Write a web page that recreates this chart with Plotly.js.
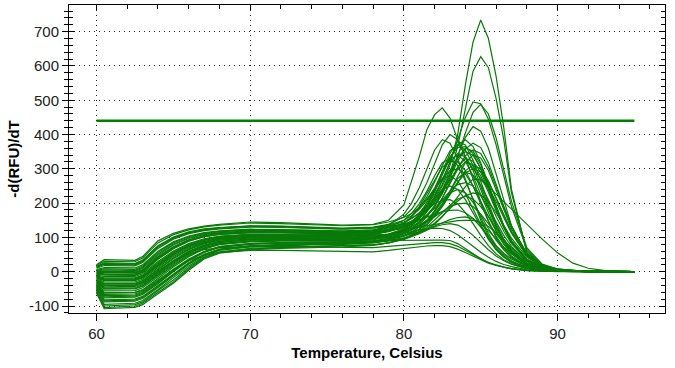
<!DOCTYPE html>
<html>
<head>
<meta charset="utf-8">
<script src="https://cdn.plot.ly/plotly-3.0.1.min.js"></script>
<style>
html,body{margin:0;padding:0;background:#fff;}
#chart{width:675px;height:368px;}
</style>
</head>
<body>
<div id="chart"></div>
<script>
// Temperature sample points (°C)
const temperatureC = [60, 60.5, 62.5, 63, 64, 65, 66, 67, 68, 70, 72, 74, 76, 78, 79, 80, 80.5, 81, 81.5, 82, 82.5, 83, 83.5, 84, 84.5, 85, 85.5, 86, 86.5, 87, 88, 89, 90, 91, 92, 93, 95];

// -d(RFU)/dT melt curves, one array per well
const well01 = [12,22,20,30,72,98,113,122,127,132,131,128,125,128, 134,145,155,170,190,218,255,310,400,545,670,734,680,570,420,240,55,15,6,2,1,0,0];
const well02 = [-5,-6,-7,2,40,70,91,103,110,115,115,113,111,115, 122,135,146,160,180,208,240,285,365,475,585,627,595,505,385,230,60,18,7,3,1,0,0];
const well03 = [4,8,7,16,56,84,102,112,118,123,122,120,118,121, 128,142,155,172,195,225,265,320,385,450,495,490,445,370,280,190,65,20,8,3,1,0,0];
const well04 = [-20,-30,-30,-22,12,44,69,85,95,101,102,101,100,104, 110,122,132,146,166,192,228,275,335,405,465,488,460,390,300,205,70,22,8,3,1,0,0];
const well05 = [20,35,33,44,90,112,125,133,138,145,143,140,136,138, 150,195,262,335,415,458,478,448,385,335,300,272,248,226,205,182,140,95,55,25,10,4,0];
const well06 = [-12,-18,-18,-10,26,57,80,94,102,108,108,107,106,110, 117,130,140,155,175,202,238,285,340,392,423,410,360,285,205,135,48,16,6,2,1,0,0];
const well07 = [15,26,24,34,76,101,116,125,129,134,133,130,127,130, 138,160,182,215,260,315,370,400,385,335,270,205,148,100,65,40,15,6,3,1,0,0,0];
const well08 = [2,5,4,13,52,80,99,110,116,121,120,118,116,119, 135,168,200,245,300,355,385,375,330,270,205,150,105,70,45,28,10,4,2,1,0,0,0];
const well09 = [-28,-44,-43,-35,-2,30,58,76,88,95,96,96,95,99, 106,120,135,158,192,238,292,345,380,370,325,262,198,140,95,62,24,9,4,1,0,0,0];
const well10 = [-2,-1,-2,6,44,73,93,105,112,117,117,115,113,117, 124,142,160,185,218,262,310,352,370,355,310,250,190,135,92,60,22,8,3,1,0,0,0];
const well11 = [-35,-56,-55,-47,-15,18,47,68,81,89,91,91,91,95, 101,112,122,138,160,192,235,285,332,360,352,312,255,192,135,90,35,13,5,2,1,0,0];
const well12 = [-15,-24,-24,-16,20,52,76,91,100,106,106,105,104,108, 118,132,144,160,182,212,250,295,332,350,340,302,248,188,132,88,34,12,5,2,1,0,0];
const well13 = [-42,-70,-68,-60,-30,4,35,58,73,82,85,86,86,90, 97,110,124,145,175,218,268,318,345,335,295,240,182,130,88,58,22,8,3,1,0,0,0];
const well14 = [-18,-26,-26,-18,16,48,72,87,97,103,104,103,102,106, 109,118,126,136,150,170,198,235,278,318,340,332,295,240,180,125,50,18,7,3,1,0,0];
const well15 = [6,12,11,20,60,87,104,114,119,124,123,121,119,122, 130,150,170,198,235,280,318,330,310,265,210,158,112,76,50,32,12,5,2,1,0,0,0];
const well16 = [-52,-88,-86,-78,-46,-12,22,48,64,74,78,80,81,85, 92,104,115,130,150,178,215,258,298,320,312,280,232,178,128,88,36,14,5,2,1,0,0];
const well17 = [-32,-50,-49,-41,-8,25,54,73,85,93,94,94,94,98, 105,114,122,132,146,166,192,226,262,295,310,300,265,215,162,115,48,18,7,3,1,0,0];
const well18 = [18,30,29,40,84,108,122,131,136,142,140,137,134,137, 145,158,170,188,212,242,272,294,300,285,250,205,160,118,82,55,20,8,3,1,0,0,0];
const well19 = [-60,-105,-100,-92,-60,-30,8,40,56,66,70,72,74,78, 84,95,105,118,136,162,196,236,272,290,282,252,210,162,118,82,34,13,5,2,1,0,0];
const well20 = [-38,-62,-61,-53,-20,14,44,66,79,87,89,89,89,93, 104,122,142,168,202,240,270,280,265,228,182,138,98,66,44,28,10,4,2,1,0,0,0];
const well21 = [-8,-10,-11,-2,36,67,89,102,109,114,114,112,110,114, 120,130,138,150,165,185,210,235,254,260,250,222,185,145,106,74,30,12,5,2,1,0,0];
const well22 = [-45,-76,-74,-66,-35,0,32,56,71,80,83,84,85,89, 96,106,116,130,150,176,205,230,240,230,202,165,126,92,64,43,17,7,3,1,0,0,0];
const well23 = [-55,-95,-92,-84,-52,-18,17,45,62,72,76,78,80,84, 90,98,105,114,126,142,162,185,206,222,230,224,204,172,135,98,42,16,6,2,1,0,0];
const well24 = [-10,-14,-14,-6,30,60,82,96,104,110,110,109,108,112, 118,132,146,162,180,198,208,210,198,172,140,106,76,52,35,23,9,4,2,1,0,0,0];
const well25 = [-22,-34,-34,-26,8,40,66,83,93,99,100,99,98,102, 108,116,124,134,146,160,176,190,198,200,190,168,140,110,82,58,24,10,4,2,1,0,0];
const well26 = [10,18,17,27,68,95,111,120,125,130,129,126,124,127, 132,138,144,152,160,168,175,179,180,172,155,130,102,76,54,37,15,6,3,1,0,0,0];
const well27 = [-32,-50,-50,-42,-10,22,50,70,82,90,92,92,92,96, 99,105,110,116,124,133,143,152,158,160,154,140,120,96,72,52,22,9,4,2,1,0,0];
const well28 = [-58,-100,-96,-88,-55,-24,12,42,58,68,71,73,75,79, 84,94,102,112,122,131,137,140,136,124,106,85,64,46,32,22,9,4,2,1,0,0,0];
const well29 = [-26,-40,-40,-32,2,33,60,78,89,96,97,97,96,100, 101,112,118,122,125,127,126,120,108,92,74,57,42,30,21,15,6,3,1,0,0,0,0];
const well30 = [-40,-66,-65,-57,-27,7,37,59,73,82,84,85,86,89, 91,92,92,92,92,92,92,91,82,68,52,38,27,19,13,9,4,2,1,0,0,0,0];
const well31 = [-25,-40,-39,-31,0,30,52,64,70,73,73,72,71,70, 74,78,80,82,84,85,85,82,74,62,49,37,27,19,13,9,4,2,1,0,0,0,0];
const well32 = [-38,-62,-60,-53,-24,6,32,48,56,62,62,60,59,58, 62,68,71,73,75,76,76,73,66,56,45,34,25,18,12,8,3,1,0,0,0,0,0];
const well33 = [-48,-82,-80,-72,-40,-6,26,51,66,76,80,81,82,86, 90,97,103,111,122,138,160,188,218,248,270,268,245,205,158,112,46,17,6,2,1,0,0];
const well34 = [-16,-22,-22,-14,18,50,74,88,98,104,105,104,103,107, 110,125,140,160,186,215,240,250,240,210,170,130,94,64,42,28,10,4,2,1,0,0,0];
const well35 = [0,2,1,10,48,78,97,108,114,119,119,117,115,118, 127,138,148,160,178,202,232,268,305,338,355,345,305,248,188,132,54,19,7,3,1,0,0];
const well36 = [-62,-108,-104,-96,-64,-34,4,37,54,64,68,70,72,77, 84,96,108,124,146,176,215,262,305,330,322,290,240,184,132,90,36,14,5,2,1,0,0];
const well37 = [-14,-21,-21,-13,23,54,78,92,101,107,107,106,105,109, 118,132,146,166,194,232,280,332,370,385,365,318,256,190,132,88,34,12,5,2,1,0,0];
const well38 = [-4,-3,-4,4,42,72,92,104,111,116,116,114,112,116, 120,124,127,130,134,138,142,146,149,150,150,144,132,114,92,70,32,13,5,2,1,0,0];
const well39 = [14,24,22,32,74,99,114,123,128,133,132,129,126,129, 136,150,163,182,208,244,290,335,362,365,345,300,245,185,130,86,33,12,5,2,1,0,0];
const well40 = [-30,-47,-46,-38,-5,28,56,74,86,94,95,95,94,98, 104,118,134,158,192,238,290,328,340,322,280,225,170,120,80,52,20,7,3,1,0,0,0];
const well41 = [-44,-73,-71,-63,-32,2,33,57,72,81,84,85,85,89, 95,104,112,124,140,162,190,225,260,288,300,292,262,215,165,118,48,17,6,2,1,0,0];
const well42 = [-6,-8,-9,0,38,68,90,102,109,114,114,112,110,114, 122,140,160,190,228,270,305,322,320,295,250,198,148,104,70,46,17,7,3,1,0,0,0];
const well43 = [-24,-36,-36,-28,6,38,64,81,92,98,99,98,97,101, 107,118,128,142,162,190,228,275,322,358,375,362,318,255,190,132,52,18,7,3,1,0,0];
const well44 = [-50,-85,-83,-75,-43,-9,24,50,65,75,79,81,82,86, 91,99,106,116,130,150,172,194,212,220,212,190,160,126,94,66,27,11,4,2,1,0,0];

// Threshold line
const thresholdX = [60, 95];
const thresholdY = [440, 440];

// Tick labels
const xTickVals = [60, 70, 80, 90];
const xTickText = ['60', '70', '80', '90'];
const yTickVals = [-100, 0, 100, 200, 300, 400, 500, 600, 700];
const yTickText = ['-100', '0', '100', '200', '300', '400', '500', '600', '700'];

const wells = [well01, well02, well03, well04, well05, well06, well07, well08, well09, well10,
  well11, well12, well13, well14, well15, well16, well17, well18, well19, well20,
  well21, well22, well23, well24, well25, well26, well27, well28, well29, well30,
  well31, well32, well33, well34, well35, well36, well37, well38, well39, well40,
  well41, well42, well43, well44];

const GREEN = 'rgb(0,128,0)';
const traces = wells.map(function (w) {
  return {
    type: 'scatter', mode: 'lines', x: temperatureC, y: w,
    line: {color: 'rgb(8,122,8)', width: 1.2}, showlegend: false, hoverinfo: 'skip'
  };
});
traces.push({
  type: 'scatter', mode: 'lines', x: thresholdX, y: thresholdY,
  line: {color: GREEN, width: 2.5}, showlegend: false, hoverinfo: 'skip'
});
// helper trace so the overlay axes (inside ticks) are drawn
traces.push({
  type: 'scatter', mode: 'lines', x: [null], y: [null], xaxis: 'x2', yaxis: 'y2',
  showlegend: false, hoverinfo: 'skip'
});

const XR = [58.21, 96.99];
const YR = [-120.4, 777.8];
const FONT = 'Liberation Sans, Arial, sans-serif';
const GRIDDASH = '1px,4px';

const layout = {
  width: 675, height: 368,
  margin: {l: 69, r: 10, t: 5, b: 55},
  paper_bgcolor: '#fff', plot_bgcolor: '#fff',
  font: {family: FONT, color: '#000'},
  xaxis: {
    range: XR, fixedrange: true,
    tickmode: 'array', tickvals: xTickVals, ticktext: xTickText,
    ticks: 'outside', ticklen: 7, tickwidth: 1, tickcolor: '#000',
    tickfont: {size: 15, color: '#222'},
    showline: true, linecolor: '#000', linewidth: 1,
    showgrid: true, gridcolor: '#222', griddash: GRIDDASH, gridwidth: 1,
    zeroline: false,
    minor: {tick0: 60, dtick: 2, ticks: 'outside', ticklen: 4, tickcolor: '#000', showgrid: false},
    title: {text: '<b>Temperature, Celsius</b>', font: {size: 15, color: '#000'}, standoff: 6}
  },
  yaxis: {
    range: YR, fixedrange: true,
    tickmode: 'array', tickvals: yTickVals, ticktext: yTickText,
    ticks: 'outside', ticklen: 6, tickwidth: 1, tickcolor: '#000',
    tickfont: {size: 15, color: '#222'},
    showline: true, linecolor: '#000', linewidth: 1,
    showgrid: true, gridcolor: '#222', griddash: GRIDDASH, gridwidth: 1,
    zeroline: false,
    minor: {tick0: 0, dtick: 20, ticks: 'outside', ticklen: 4, tickcolor: '#000', showgrid: false},
    title: {text: '<b>-d(RFU)/dT</b>', font: {size: 15, color: '#000'}, standoff: 5}
  },
  xaxis2: {
    overlaying: 'x', anchor: 'y2', side: 'top', range: XR, fixedrange: true,
    tickmode: 'array', tickvals: xTickVals, showticklabels: false,
    ticks: 'inside', ticklen: 5, tickcolor: '#000',
    showline: true, linecolor: '#000', linewidth: 1,
    showgrid: false, zeroline: false,
    minor: {tick0: 60, dtick: 2, ticks: 'inside', ticklen: 4, tickcolor: '#000', showgrid: false}
  },
  yaxis2: {
    overlaying: 'y', anchor: 'x2', side: 'left', range: YR, fixedrange: true,
    tickmode: 'array', tickvals: yTickVals, showticklabels: false,
    ticks: 'inside', ticklen: 6, tickcolor: '#000',
    showline: true, linecolor: '#000', linewidth: 1, mirror: 'allticks',
    showgrid: false, zeroline: false,
    minor: {tick0: 0, dtick: 20, ticks: 'inside', ticklen: 4, tickcolor: '#000', showgrid: false}
  }
};

Plotly.newPlot('chart', traces, layout, {displayModeBar: false, staticPlot: true});
</script>
</body>
</html>
